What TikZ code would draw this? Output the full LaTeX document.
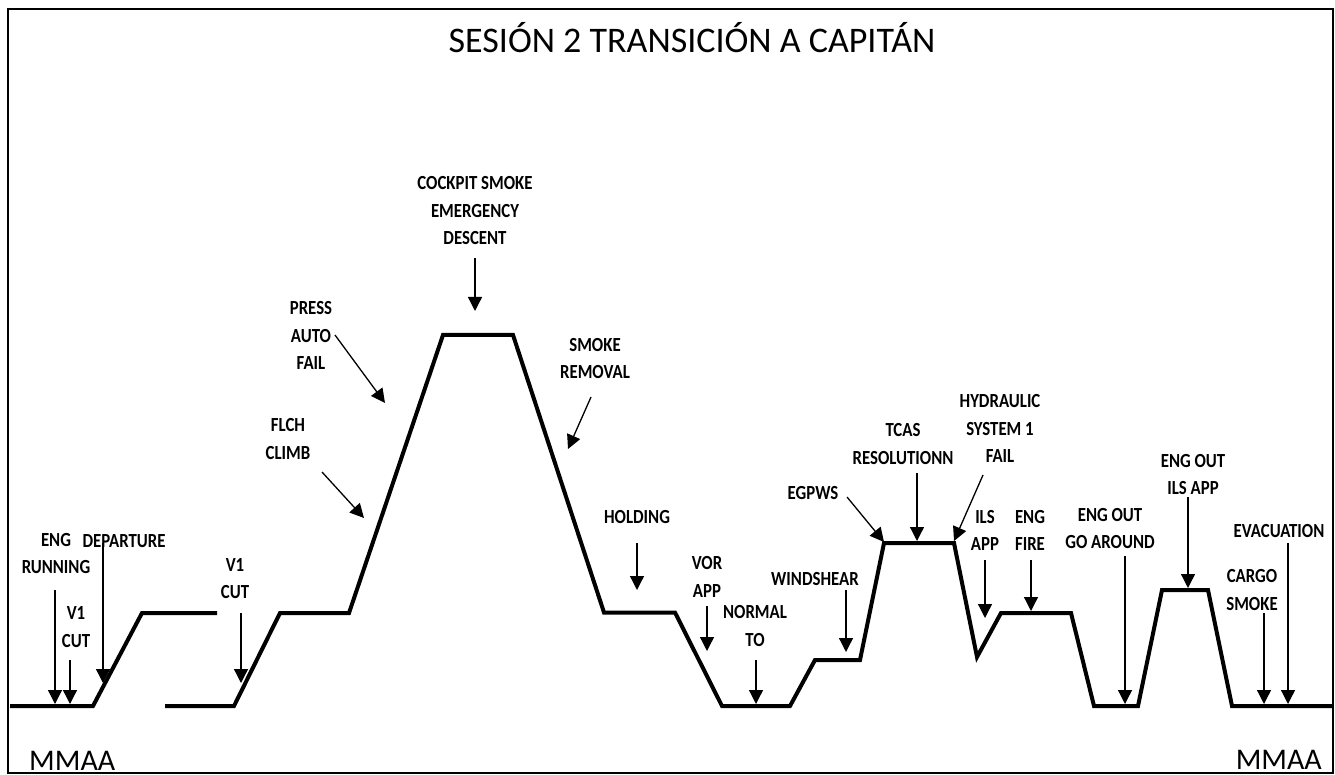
\documentclass[tikz,border=0pt]{standalone}
\usepackage{fontspec}
\setmainfont{Carlito}
\newfontfamily\labfont{Carlito}[FakeStretch=0.84]
\usetikzlibrary{arrows.meta}
\begin{document}
\begin{tikzpicture}[x=1pt,y=-1pt,
  lab/.style={align=center,inner sep=0pt,font=\labfont\bfseries\fontsize{20}{27.5}\selectfont},
  arr/.style={line width=1.3pt,-{Triangle[width=14pt,length=14pt]}},
  prof/.style={line width=4pt,line join=miter},
  bigtxt/.style={inner sep=0pt,font=\fontsize{30}{36}\selectfont}]
\useasboundingbox (0,0) rectangle (1335,775);
\draw[line width=2.5pt] (8,9) rectangle (1333,773);
% title
\node[inner sep=0pt,anchor=base,font=\fontsize{36}{42}\selectfont] (title) at (692,53) {SESIÓN 2 TRANSICIÓN A CAPITÁN};
\node[bigtxt,anchor=base west] (mmaaL) at (29,770) {MMAA};
\node[bigtxt,anchor=base east] (mmaaR) at (1322,769) {MMAA};
% profile
\draw[prof] (10,706) -- (93,706) -- (142,613) -- (217,613);
\draw[prof] (165,706) -- (234,706) -- (280,613) -- (349,613) -- (443,335) -- (513,335)
  -- (604,612.5) -- (675,612.5) -- (722,706) -- (790,706) -- (815,660) -- (860,660)
  -- (884,543) -- (954,543) -- (977,657) -- (1001,613) -- (1071,613) -- (1094,706)
  -- (1138,706) -- (1162,590) -- (1208,590) -- (1232,706) -- (1333,706);
% labels
\node[lab] (l1) at (56,553.5) {ENG\\RUNNING};
\node[lab] (l2) at (76,627) {V1\\CUT};
\node[lab] (l3) at (124,541) {DEPARTURE};
\node[lab] (l4) at (235,578.5) {V1\\CUT};
\node[lab] (l5) at (288,439) {FLCH\\CLIMB};
\node[lab] (l6) at (311,335.5) {PRESS\\AUTO\\FAIL};
\node[lab] (l7) at (475,211) {COCKPIT SMOKE\\EMERGENCY\\DESCENT};
\node[lab] (l8) at (595,358.5) {SMOKE\\REMOVAL};
\node[lab] (l9) at (637,517) {HOLDING};
\node[lab] (l10) at (707,577) {VOR\\APP};
\node[lab] (l11) at (755,626) {NORMAL\\TO};
\node[lab] (l12) at (815,579) {WINDSHEAR};
\node[lab] (l13) at (813,493) {EGPWS};
\node[lab] (l14) at (903,444) {TCAS\\RESOLUTIONN};
\node[lab] (l15) at (1000,428.5) {HYDRAULIC\\SYSTEM 1\\FAIL};
\node[lab] (l16) at (985,530.5) {ILS\\APP};
\node[lab] (l17) at (1030,530.5) {ENG\\FIRE};
\node[lab] (l18) at (1110,528.5) {ENG OUT\\GO AROUND};
\node[lab] (l19) at (1193,474.5) {ENG OUT\\ILS APP};
\node[lab] (l20) at (1252,590) {CARGO\\SMOKE};
\node[lab] (l21) at (1279,531) {EVACUATION};
% arrow coordinates
\coordinate (s1) at (55,590);   \coordinate (t1) at (55,704);
\coordinate (s2) at (70,660);   \coordinate (t2) at (70,704);
\coordinate (s3) at (103,543);  \coordinate (t3) at (103,683);
\coordinate (s4) at (241,613);  \coordinate (t4) at (241,683);
\coordinate (s5) at (322,472);  \coordinate (t5) at (364,518);
\coordinate (s6) at (335,335);  \coordinate (t6) at (385,403);
\coordinate (s7) at (475,258);  \coordinate (t7) at (475,311);
\coordinate (s8) at (591,397);  \coordinate (t8) at (568,449);
\coordinate (s9) at (637,543);  \coordinate (t9) at (637,590);
\coordinate (s10) at (707,606); \coordinate (t10) at (707,651);
\coordinate (s11) at (756,660); \coordinate (t11) at (756,704);
\coordinate (s12) at (846,590); \coordinate (t12) at (846,652);
\coordinate (s13) at (847,497); \coordinate (t13) at (884,542);
\coordinate (s14) at (917,473); \coordinate (t14) at (917,541);
\coordinate (s15) at (983,475); \coordinate (t15) at (954,541);
\coordinate (s16) at (985,560); \coordinate (t16) at (985,618);
\coordinate (s17) at (1031,560); \coordinate (t17) at (1031,611);
\coordinate (s18) at (1125,556); \coordinate (t18) at (1125,704);
\coordinate (s19) at (1188,497); \coordinate (t19) at (1188,588);
\coordinate (s20) at (1264,613); \coordinate (t20) at (1264,704);
\coordinate (s21) at (1288,543); \coordinate (t21) at (1288,704);
\foreach \i in {1,...,21} {\draw[arr] (s\i) -- (t\i);}
\end{tikzpicture}
\end{document}
